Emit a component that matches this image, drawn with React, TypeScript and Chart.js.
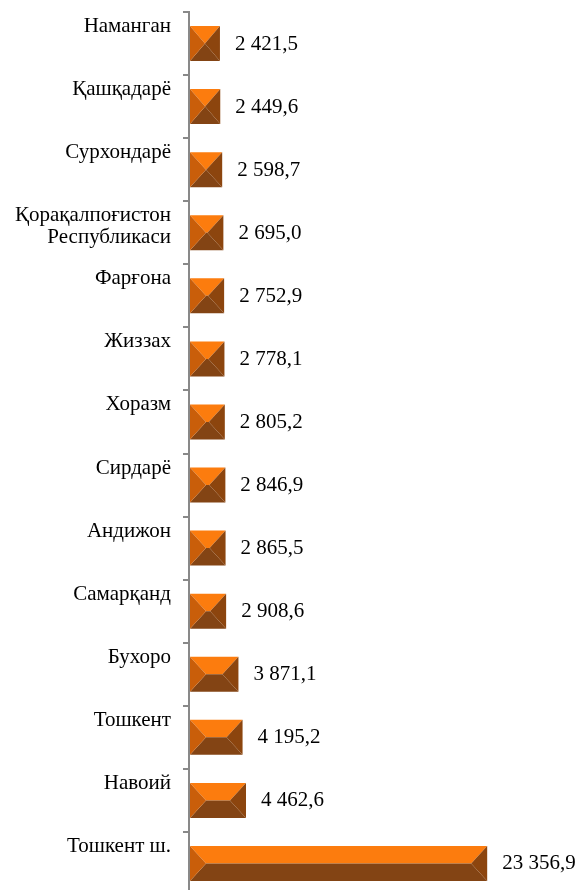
import React, { useEffect, useRef } from "react";
import { Chart, registerables } from "chart.js";

Chart.register(...registerables);

const categories: (string | string[])[] = [
  "Наманган",
  "Қашқадарё",
  "Сурхондарё",
  ["Қорақалпоғистон", "Республикаси"],
  "Фарғона",
  "Жиззах",
  "Хоразм",
  "Сирдарё",
  "Андижон",
  "Самарқанд",
  "Бухоро",
  "Тошкент",
  "Навоий",
  "Тошкент ш.",
];

const values: number[] = [
  2421.5, 2449.6, 2598.7, 2695.0, 2752.9, 2778.1, 2805.2, 2846.9, 2865.5,
  2908.6, 3871.1, 4195.2, 4462.6, 23356.9,
];

const xMax = 30000;

const FONT = "'Liberation Serif'";

function fmt(v: number): string {
  const [i, d] = v.toFixed(1).split(".");
  const withSpaces = i.replace(/\B(?=(\d{3})+(?!\d))/g, " ");
  return withSpaces + "," + d;
}

const bevelPlugin = {
  id: "bevelBars",
  afterDatasetsDraw(chart: any) {
    const ctx = chart.ctx as CanvasRenderingContext2D;
    const meta = chart.getDatasetMeta(0);
    ctx.save();
    meta.data.forEach((el: any, idx: number) => {
      const { x, y, base, height } = el.getProps(["x", "y", "base", "height"], true);
      const x0 = base + 1;
      const x1 = x;
      const y0 = y - height / 2;
      const y1 = y + height / 2;
      const bx = Math.min(16, (x1 - x0) / 2);
      const ym = y;
      const poly = (pts: number[][], color: string) => {
        ctx.beginPath();
        ctx.moveTo(pts[0][0], pts[0][1]);
        for (let k = 1; k < pts.length; k++) ctx.lineTo(pts[k][0], pts[k][1]);
        ctx.closePath();
        ctx.fillStyle = color;
        ctx.fill();
      };
      poly([[x0, y0], [x1, y0], [x1 - bx, ym], [x0 + bx, ym]], "#FC7C0E");
      poly([[x0, y1], [x1, y1], [x1 - bx, ym], [x0 + bx, ym]], "#834414");
      poly([[x0, y0], [x0 + bx, ym], [x0, y1]], "#C95E0A");
      poly([[x1, y0], [x1 - bx, ym], [x1, y1]], "#8C450E");

      ctx.fillStyle = "#000";
      ctx.font = `21px ${FONT}`;
      ctx.textAlign = "left";
      ctx.textBaseline = "alphabetic";
      ctx.fillText(fmt(values[idx]), x1 + 15, y + 6);
    });
    ctx.restore();
  },
};

export default function App() {
  const canvasRef = useRef<HTMLCanvasElement | null>(null);

  useEffect(() => {
    document.body.style.margin = "0";
    document.body.style.overflow = "hidden";
    let chart: Chart | null = null;
    let cancelled = false;
    const build = () => {
      if (cancelled) return;
      const canvas = canvasRef.current;
      if (!canvas) return;
      const labels = categories.map((c) => (Array.isArray(c) ? c : [c, ""]));
      chart = new Chart(canvas, {
        type: "bar",
        data: {
          labels,
          datasets: [
            {
              data: values,
              backgroundColor: "rgba(0,0,0,0)",
              borderWidth: 0,
              barPercentage: 0.555,
              categoryPercentage: 1,
            },
          ],
        },
        options: {
          indexAxis: "y",
          animation: false,
          responsive: true,
          maintainAspectRatio: false,
          layout: { padding: { top: 12, left: 0, right: 12, bottom: 5 } },
          plugins: {
            legend: { display: false },
            tooltip: { enabled: false },
          },
          scales: {
            x: {
              display: false,
              min: 0,
              max: xMax,
            },
            y: {
              afterFit: (scale: any) => {
                scale.width = 189;
                scale.paddingTop = 0;
                scale.paddingBottom = 0;
              },
              grid: {
                offset: true,
                drawOnChartArea: false,
                drawTicks: true,
                tickLength: 6,
                tickColor: "#898989",
                lineWidth: 2,
              },
              border: { display: true, color: "#898989", width: 2 },
              ticks: {
                color: "#000",
                padding: 12,
                labelOffset: -6,
                font: { family: FONT, size: 21, lineHeight: "22px" as any },
              },
            },
          },
        },
        plugins: [bevelPlugin],
      });
    };
    const fontsApi = (document as any).fonts;
    if (fontsApi && fontsApi.load) {
      fontsApi
        .load(`21px ${FONT}`, "Наманган 0123")
        .then(build, build);
    } else {
      build();
    }
    return () => {
      cancelled = true;
      if (chart) chart.destroy();
    };
  }, []);

  return (
    <div style={{ width: 584, height: 890, overflow: "hidden" }}>
      <div style={{ position: "relative", width: 584, height: 900 }}>
        <canvas ref={canvasRef} />
      </div>
    </div>
  );
}
